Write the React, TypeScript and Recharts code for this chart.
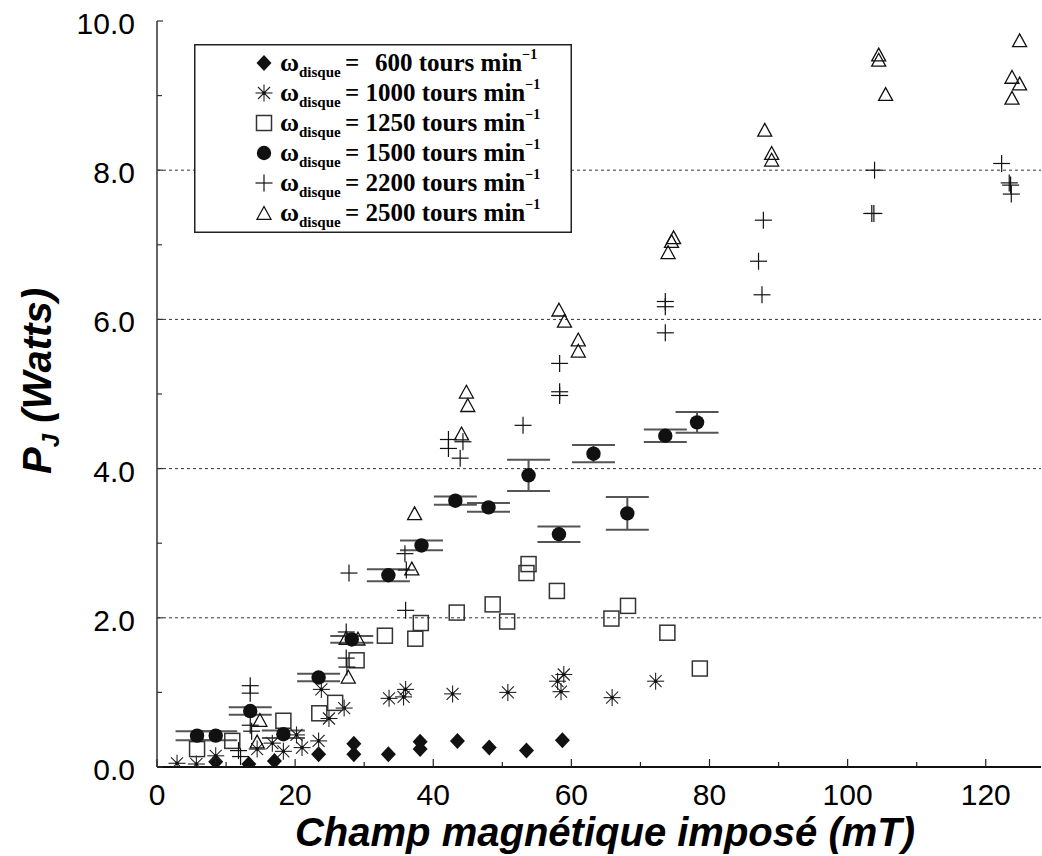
import { ScatterChart, Scatter, XAxis, YAxis, ErrorBar, ReferenceLine, Legend } from "recharts";

// axes
const xTicks = [0, 10, 20, 30, 40, 50, 60, 70, 80, 90, 100, 110, 120];
const yTicks = [0, 1, 2, 3, 4, 5, 6, 7, 8, 9, 10];
const gridValues = [2, 4, 6, 8];

// omega = 600 tours/min
const champ600 = [8.5, 13.3, 17.0, 23.4, 28.5, 28.5, 33.5, 38.1, 38.1, 43.5, 48.1, 53.5, 58.7];
const pj600 = [0.07, 0.04, 0.08, 0.17, 0.31, 0.17, 0.17, 0.34, 0.24, 0.35, 0.26, 0.22, 0.36];

// omega = 1000 tours/min
const champ1000 = [2.9, 5.7, 8.5, 14.5, 16.7, 18.3, 20.2, 21.0, 23.4, 23.8, 24.9, 27.1, 33.6, 35.7, 36.0, 42.8, 50.8, 58.0, 58.5, 58.9, 65.9, 72.2];
const pj1000 = [0.05, 0.04, 0.15, 0.24, 0.32, 0.21, 0.43, 0.26, 0.35, 1.04, 0.65, 0.79, 0.92, 0.94, 1.04, 0.98, 1.0, 1.15, 1.01, 1.24, 0.93, 1.15];

// omega = 1250 tours/min
const champ1250 = [5.8, 10.9, 18.3, 23.5, 25.8, 28.9, 33.0, 37.4, 38.2, 43.4, 48.6, 50.7, 53.5, 53.8, 57.9, 65.8, 68.2, 73.9, 78.6];
const pj1250 = [0.24, 0.35, 0.62, 0.72, 0.86, 1.43, 1.76, 1.72, 1.93, 2.07, 2.18, 1.95, 2.6, 2.72, 2.36, 1.99, 2.16, 1.8, 1.32];

// omega = 1500 tours/min (with error bars)
const champ1500 = [5.8, 8.5, 13.5, 18.3, 23.4, 28.2, 33.5, 38.3, 43.2, 48.0, 53.8, 58.2, 63.2, 68.1, 73.6, 78.2];
const pj1500 = [0.42, 0.42, 0.75, 0.44, 1.2, 1.71, 2.57, 2.97, 3.57, 3.48, 3.91, 3.12, 4.2, 3.4, 4.44, 4.62];
const err1500 = [0.06, 0.06, 0.05, 0.05, 0.05, 0.045, 0.08, 0.065, 0.055, 0.058, 0.21, 0.105, 0.115, 0.22, 0.085, 0.14];

// omega = 2200 tours/min
const champ2200 = [11.8, 12.1, 13.5, 13.7, 13.5, 13.5, 27.4, 27.5, 27.4, 27.8, 36.0, 35.9, 36.1, 42.2, 42.2, 44.3, 43.9, 53.0, 58.3, 58.3, 58.3, 73.6, 73.6, 73.6, 87.1, 87.6, 87.8, 103.9, 103.5, 103.8, 122.3, 123.4, 123.6, 123.7];
const pj2200 = [0.22, 0.14, 0.56, 0.48, 1.09, 0.99, 1.46, 1.34, 1.81, 2.6, 2.1, 2.86, 2.64, 4.39, 4.27, 4.36, 4.14, 4.58, 5.41, 5.03, 4.98, 6.24, 6.17, 5.82, 6.78, 6.33, 7.33, 8.0, 7.42, 7.42, 8.09, 7.83, 7.8, 7.68];

// omega = 2500 tours/min
const champ2500 = [14.5, 14.9, 27.7, 27.4, 29.1, 36.9, 37.3, 44.1, 44.8, 45.0, 58.2, 59.0, 61.0, 61.0, 74.0, 74.5, 74.8, 88.0, 89.0, 89.0, 104.5, 104.5, 105.5, 124.9, 123.8, 124.9, 123.8];
const pj2500 = [0.34, 0.63, 1.21, 1.73, 1.72, 2.66, 3.4, 4.47, 5.03, 4.85, 6.13, 5.98, 5.73, 5.58, 6.9, 7.05, 7.1, 8.54, 8.23, 8.14, 9.55, 9.48, 9.02, 9.74, 9.25, 9.16, 8.97];

const legendSpeeds = ["600", "1000", "1250", "1500", "2200", "2500"];

const pts = (xs: number[], ys: number[], es?: number[]) =>
  xs.map((x, i) => (es ? { x, y: ys[i], err: es[i] } : { x, y: ys[i] }));

const ink = "#111";
const sans = '"Liberation Sans", Arial, Helvetica, sans-serif';
const serif = '"Liberation Serif", "Times New Roman", serif';

function Diamond({ cx, cy }: any) {
  return <path d={`M${cx},${cy - 8}L${cx + 7.5},${cy}L${cx},${cy + 8}L${cx - 7.5},${cy}Z`} fill={ink} />;
}
function Star({ cx, cy }: any) {
  const r = 8.5, d = 6;
  return (
    <g stroke="#222" strokeWidth={1.1}>
      <line x1={cx - r} y1={cy} x2={cx + r} y2={cy} />
      <line x1={cx} y1={cy - r} x2={cx} y2={cy + r} />
      <line x1={cx - d} y1={cy - d} x2={cx + d} y2={cy + d} />
      <line x1={cx - d} y1={cy + d} x2={cx + d} y2={cy - d} />
      <circle cx={cx} cy={cy} r={1.8} fill={ink} stroke="none" />
    </g>
  );
}
function Square({ cx, cy }: any) {
  return <rect x={cx - 7.5} y={cy - 7.5} width={15} height={15} fill="none" stroke="#333" strokeWidth={1.5} />;
}
function Dot({ cx, cy }: any) {
  return <circle cx={cx} cy={cy} r={7.2} fill={ink} />;
}
function Plus({ cx, cy }: any) {
  return (
    <g stroke={ink} strokeWidth={1.2}>
      <line x1={cx - 8.5} y1={cy} x2={cx + 8.5} y2={cy} />
      <line x1={cx} y1={cy - 8.5} x2={cx} y2={cy + 8.5} />
    </g>
  );
}
function Tri({ cx, cy }: any) {
  return <path d={`M${cx},${cy - 6.5}L${cx + 7},${cy + 6.3}L${cx - 7},${cy + 6.3}Z`} fill="none" stroke={ink} strokeWidth={1.3} />;
}

const markers = [Diamond, Star, Square, Dot, Plus, Tri];

function BottomTick({ x, y, payload }: any) {
  const major = payload.value % 20 === 0;
  return (
    <g>
      <line x1={x} x2={x} y1={y} y2={y - (major ? 8 : 5)} stroke="#222" strokeWidth={1.2} />
      {major && (
        <text x={x} y={y + 38} textAnchor="middle" fontSize={30} fontFamily={sans} fill="#000">
          {payload.value}
        </text>
      )}
    </g>
  );
}
function TopTick({ x, y, payload }: any) {
  const major = payload.value % 20 === 0;
  return <line x1={x} x2={x} y1={y} y2={y + (major ? 8 : 5)} stroke="#222" strokeWidth={1.2} />;
}
function LeftTick({ x, y, payload }: any) {
  const major = payload.value % 2 === 0;
  return (
    <g>
      <line x1={x} x2={x + (major ? 6 : 5)} y1={y} y2={y} stroke="#333" strokeWidth={1.2} />
      {major && (
        <text x={x - 22} y={y + 13} textAnchor="end" fontSize={30} fontFamily={sans} fill="#000">
          {payload.value.toFixed(1)}
        </text>
      )}
    </g>
  );
}

function XTitle() {
  return (
    <text x={605} y={846} textAnchor="middle" fontSize={40} fontWeight="bold" fontStyle="italic" fontFamily={sans} fill="#000">
      Champ magnétique imposé (mT)
    </text>
  );
}
function YTitle() {
  return (
    <text transform="translate(51,381) rotate(-90)" textAnchor="middle" fontSize={40} fontWeight="bold" fontStyle="italic" fontFamily={sans} fill="#000">
      P<tspan fontSize={24} dy={8}>J</tspan>
      <tspan dy={-8}> (Watts)</tspan>
    </text>
  );
}

function LegendBox() {
  return (
    <svg width={378} height={189} style={{ display: "block" }}>
      <rect x={0.75} y={0.75} width={376.5} height={187.5} fill="#fff" stroke="#222" strokeWidth={1.5} />
      {legendSpeeds.map((s, i) => {
        const by = 27 + 30 * i;
        const M = markers[i];
        const short = s.length === 3;
        return (
          <g key={s}>
            <M cx={70} cy={by - 8} />
            <text y={by} fontFamily={serif} fontWeight="bold" fontSize={26} fill="#000">
              <tspan x={86}>ω</tspan>
              <tspan fontSize={15} dy={6}>disque</tspan>
            </text>
            <text x={151} y={by} fontFamily={serif} fontWeight="bold" fontSize={25} fill="#000">
              {short ? "=" : `= ${s} tours min`}
              {short && <tspan x={181}>{`${s} tours min`}</tspan>}
              <tspan fontSize={14} dy={-12}>−1</tspan>
            </text>
          </g>
        );
      })}
    </svg>
  );
}

export default function App() {
  return (
    <div style={{ position: "absolute", left: 0, top: 0, width: 1042, height: 856, background: "#fff" }}>
      <ScatterChart width={1042} height={856} margin={{ top: 21, right: 1, bottom: 0, left: 0 }}>
        <XAxis type="number" dataKey="x" domain={[0, 128]} ticks={xTicks} height={89} tickSize={0} tickMargin={0} tick={<BottomTick />} axisLine={{ stroke: "#111", strokeWidth: 1.8 }} label={<XTitle />} allowDataOverflow />
        <XAxis xAxisId="top" orientation="top" type="number" dataKey="x" domain={[0, 128]} ticks={xTicks} height={0} tickSize={0} tickMargin={0} tick={<TopTick />} axisLine={{ stroke: "#222", strokeWidth: 1.5 }} allowDataOverflow />
        <YAxis type="number" dataKey="y" domain={[0, 10]} ticks={yTicks} width={157} tickSize={0} tickMargin={0} tick={<LeftTick />} axisLine={{ stroke: "#555", strokeWidth: 1.8 }} label={<YTitle />} allowDataOverflow />
        {gridValues.map((v) => (
          <ReferenceLine key={v} y={v} stroke="#333" strokeDasharray="3 3" strokeWidth={1} />
        ))}
        <Legend layout="vertical" align="center" verticalAlign="middle" wrapperStyle={{ left: 194, top: 44, width: 378, height: 189 }} content={<LegendBox />} />
        <Scatter name="600" data={pts(champ600, pj600)} shape={(p: any) => <Diamond {...p} />} isAnimationActive={false} />
        <Scatter name="1000" data={pts(champ1000, pj1000)} shape={(p: any) => <Star {...p} />} isAnimationActive={false} />
        <Scatter name="1250" data={pts(champ1250, pj1250)} shape={(p: any) => <Square {...p} />} isAnimationActive={false} />
        <Scatter name="1500" data={pts(champ1500, pj1500, err1500)} shape={(p: any) => <Dot {...p} />} isAnimationActive={false}>
          <ErrorBar dataKey="err" direction="y" width={21.5} stroke="#555" strokeWidth={2} isAnimationActive={false} />
        </Scatter>
        <Scatter name="2200" data={pts(champ2200, pj2200)} shape={(p: any) => <Plus {...p} />} isAnimationActive={false} />
        <Scatter name="2500" data={pts(champ2500, pj2500)} shape={(p: any) => <Tri {...p} />} isAnimationActive={false} />
      </ScatterChart>
    </div>
  );
}
